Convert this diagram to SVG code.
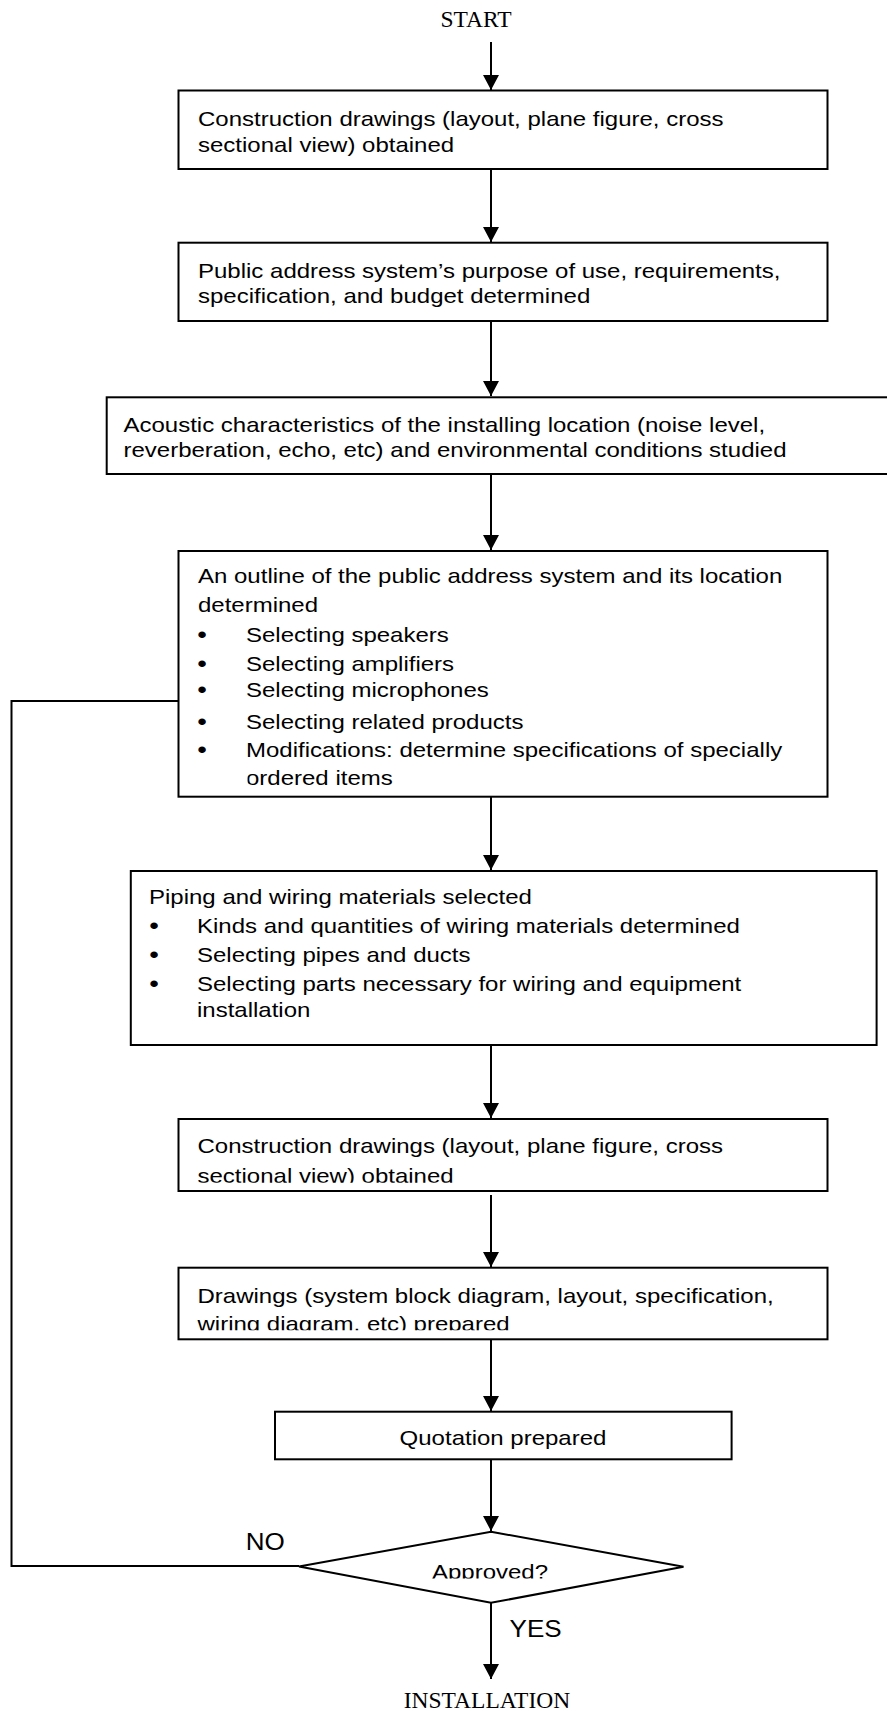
<svg xmlns="http://www.w3.org/2000/svg" width="887" height="1711" viewBox="0 0 887 1711">
<style>
.box{fill:#fff;stroke:#000;stroke-width:2}
.ln{fill:none;stroke:#000;stroke-width:2}
.t{font-family:"Liberation Sans",Arial,sans-serif;font-size:21px;fill:#000}
.bu{font-family:"Liberation Sans",Arial,sans-serif;font-size:24px;fill:#000}
.lb{font-family:"Liberation Sans",Arial,sans-serif;font-size:24px;fill:#000}
.tm{font-family:"Liberation Serif","Times New Roman",serif;font-size:23.5px;fill:#000}
</style>
<defs>
<marker id="ah" markerUnits="userSpaceOnUse" markerWidth="16" markerHeight="16" refX="15" refY="8" orient="auto">
<path d="M0,0 L15,8 L0,16 Z" fill="#000"/>
</marker>
<clipPath id="cOrd"><rect x="247.5" y="760" width="600" height="40"/></clipPath>
<clipPath id="c6"><rect x="180" y="1160" width="640" height="22.8"/></clipPath>
<clipPath id="c7"><rect x="180" y="1305" width="640" height="25.2"/></clipPath>
<clipPath id="cAp"><rect x="400" y="1550" width="200" height="28.6"/></clipPath>
</defs>

<g id="connectors">
<line class="ln" x1="491" y1="42" x2="491" y2="90" marker-end="url(#ah)"/>
<line class="ln" x1="491" y1="169" x2="491" y2="242" marker-end="url(#ah)"/>
<line class="ln" x1="491" y1="321" x2="491" y2="396" marker-end="url(#ah)"/>
<line class="ln" x1="491" y1="474" x2="491" y2="550" marker-end="url(#ah)"/>
<line class="ln" x1="491" y1="795" x2="491" y2="870" marker-end="url(#ah)"/>
<line class="ln" x1="491" y1="1045" x2="491" y2="1118" marker-end="url(#ah)"/>
<line class="ln" x1="491" y1="1195" x2="491" y2="1267" marker-end="url(#ah)"/>
<line class="ln" x1="491" y1="1339" x2="491" y2="1411" marker-end="url(#ah)"/>
<line class="ln" x1="491" y1="1459" x2="491" y2="1531" marker-end="url(#ah)"/>
<line class="ln" x1="491" y1="1603" x2="491" y2="1679" marker-end="url(#ah)"/>
<polyline class="ln" points="299,1566 11.5,1566 11.5,701 178.5,701"/>
</g>

<g id="start">
<text class="tm" x="476" y="27.3" text-anchor="middle">START</text>
</g>

<g id="box1">
<rect class="box" x="178.5" y="90.5" width="649" height="78.5"/>
<g transform="translate(198,0) scale(1.143,1)">
<text class="t" x="0" y="126">Construction drawings (layout, plane figure, cross</text>
<text class="t" x="0" y="151.7">sectional view) obtained</text>
</g>
</g>

<g id="box2">
<rect class="box" x="178.5" y="242.7" width="649" height="78.3"/>
<g transform="translate(198,0) scale(1.143,1)">
<text class="t" x="0" y="278.3">Public address system’s purpose of use, requirements,</text>
<text class="t" x="0" y="303.3">specification, and budget determined</text>
</g>
</g>

<g id="box3">
<rect class="box" x="106.7" y="397.3" width="800" height="76.7"/>
<g transform="translate(123.5,0) scale(1.143,1)">
<text class="t" x="0" y="431.7">Acoustic characteristics of the installing location (noise level,</text>
<text class="t" x="0" y="456.7">reverberation, echo, etc) and environmental conditions studied</text>
</g>
</g>

<g id="box4">
<rect class="box" x="178.5" y="551" width="649" height="245.7"/>
<g transform="translate(198,0) scale(1.143,1)">
<text class="t" x="0" y="583.3">An outline of the public address system and its location</text>
<text class="t" x="0" y="611.7">determined</text>
</g>
<g transform="translate(197.2,0) scale(1.143,1)">
<text class="bu" x="0" y="642.7">•</text>
<text class="bu" x="0" y="672">•</text>
<text class="bu" x="0" y="697.7">•</text>
<text class="bu" x="0" y="730">•</text>
<text class="bu" x="0" y="757.7">•</text>
</g>
<g transform="translate(246,0) scale(1.143,1)">
<text class="t" x="0" y="641.7">Selecting speakers</text>
<text class="t" x="0" y="671">Selecting amplifiers</text>
<text class="t" x="0" y="696.7">Selecting microphones</text>
<text class="t" x="0" y="729">Selecting related products</text>
<text class="t" x="0" y="756.7">Modifications: determine specifications of specially</text>
</g>
<g clip-path="url(#cOrd)">
<g transform="translate(246,0) scale(1.143,1)">
<text class="t" x="0" y="785">ordered items</text>
</g>
</g>
</g>

<g id="box5">
<rect class="box" x="130.8" y="871" width="745.8" height="174"/>
<g transform="translate(149,0) scale(1.143,1)">
<text class="t" x="0" y="904">Piping and wiring materials selected</text>
</g>
<g transform="translate(149.2,0) scale(1.143,1)">
<text class="bu" x="0" y="933.7">•</text>
<text class="bu" x="0" y="962.7">•</text>
<text class="bu" x="0" y="991.7">•</text>
</g>
<g transform="translate(197,0) scale(1.143,1)">
<text class="t" x="0" y="932.7">Kinds and quantities of wiring materials determined</text>
<text class="t" x="0" y="961.7">Selecting pipes and ducts</text>
<text class="t" x="0" y="990.7">Selecting parts necessary for wiring and equipment</text>
<text class="t" x="0" y="1016.7">installation</text>
</g>
</g>

<g id="box6">
<rect class="box" x="178.5" y="1119" width="649" height="72"/>
<g transform="translate(197.5,0) scale(1.143,1)">
<text class="t" x="0" y="1153.3">Construction drawings (layout, plane figure, cross</text>
</g>
<g clip-path="url(#c6)">
<g transform="translate(197.5,0) scale(1.143,1)">
<text class="t" x="0" y="1183.5">sectional view) obtained</text>
</g>
</g>
</g>

<g id="box7">
<rect class="box" x="178.5" y="1267.7" width="649" height="71.6"/>
<g transform="translate(197.5,0) scale(1.143,1)">
<text class="t" x="0" y="1302.7">Drawings (system block diagram, layout, specification,</text>
</g>
<g clip-path="url(#c7)">
<g transform="translate(197.5,0) scale(1.143,1)">
<text class="t" x="0" y="1330.8">wiring diagram, etc) prepared</text>
</g>
</g>
</g>

<g id="box8">
<rect class="box" x="275" y="1411.7" width="456.6" height="47.6"/>
<g transform="translate(503,0) scale(1.143,1)">
<text class="t" x="0" y="1445" text-anchor="middle">Quotation prepared</text>
</g>
</g>

<g id="decision">
<polygon class="box" points="491,1531.7 683.5,1566.7 491,1602.8 299,1566.5"/>
<g clip-path="url(#cAp)">
<g transform="translate(490,0) scale(1.143,1)">
<text class="t" x="0" y="1579" text-anchor="middle">Approved?</text>
</g>
</g>
</g>

<g id="labels">
<g transform="translate(245.7,0) scale(1.085,1)"><text class="lb" x="0" y="1550">NO</text></g>
<g transform="translate(509.6,0) scale(1.085,1)"><text class="lb" x="0" y="1637.3">YES</text></g>
</g>

<g id="end">
<text class="tm" x="487" y="1708" text-anchor="middle">INSTALLATION</text>
</g>
</svg>
